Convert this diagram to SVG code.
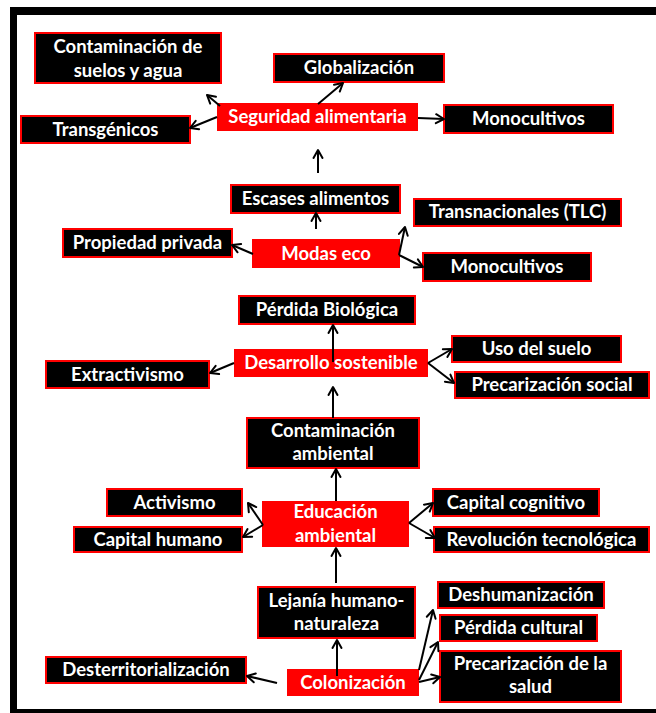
<svg xmlns="http://www.w3.org/2000/svg" width="656" height="713" viewBox="0 0 656 713">
<defs>
<marker id="ah" viewBox="0 0 12 12" refX="10" refY="6" markerWidth="12" markerHeight="12" markerUnits="userSpaceOnUse" orient="auto">
<path d="M2,1.5 L10,6 L2,10.5" fill="none" stroke="#000" stroke-width="2" stroke-linecap="round" stroke-linejoin="round"/>
</marker>
<style>
.b{fill:#000;stroke:#ff0000;stroke-width:2}
.r{fill:#ff0000;stroke:none}
text{font-family:Lato,"Liberation Sans",sans-serif;font-weight:bold;font-size:18.5px;fill:#fff;text-anchor:middle}
.c line{stroke:#000;stroke-width:2;marker-end:url(#ah)}
</style>
</defs>
<rect x="0" y="0" width="656" height="713" fill="#fff"/>
<g id="frame">
<rect x="10" y="7" width="646" height="8" fill="#000"/>
<rect x="10" y="7" width="7" height="706" fill="#000"/>
<rect x="10" y="709" width="646" height="4" fill="#000"/>
</g>
<g id="contaminacion_suelos"><rect class="b" x="35" y="33" width="186" height="50"/><text x="128" y="53">Contaminación de</text><text x="128" y="77">suelos y agua</text></g>
<g id="globalizacion"><rect class="b" x="274" y="54" width="170" height="28"/><text x="359" y="74">Globalización</text></g>
<g id="seguridad_alimentaria"><rect class="r" x="217" y="103" width="201" height="28"/><text x="317.5" y="123">Seguridad alimentaria</text></g>
<g id="transgenicos"><rect class="b" x="21" y="116" width="169" height="27"/><text x="105.5" y="136">Transgénicos</text></g>
<g id="monocultivos_1"><rect class="b" x="444" y="105" width="169" height="28"/><text x="528.5" y="125">Monocultivos</text></g>
<g id="escases_alimentos"><rect class="b" x="231" y="185" width="169" height="28"/><text x="315.5" y="205">Escases alimentos</text></g>
<g id="transnacionales"><rect class="b" x="414" y="199" width="207" height="27"/><text x="517.5" y="218">Transnacionales (TLC)</text></g>
<g id="propiedad_privada"><rect class="b" x="63" y="229" width="169" height="28"/><text x="147.5" y="249">Propiedad privada</text></g>
<g id="modas_eco"><rect class="r" x="252" y="239" width="148" height="29"/><text x="326" y="260">Modas eco</text></g>
<g id="monocultivos_2"><rect class="b" x="423" y="253" width="168" height="28"/><text x="507" y="273">Monocultivos</text></g>
<g id="perdida_biologica"><rect class="b" x="239" y="296" width="176" height="28"/><text x="327" y="316">Pérdida Biológica</text></g>
<g id="desarrollo_sostenible"><rect class="r" x="234" y="349" width="194" height="28"/><text x="331" y="369">Desarrollo sostenible</text></g>
<g id="extractivismo"><rect class="b" x="46" y="361" width="163" height="27"/><text x="127.5" y="381">Extractivismo</text></g>
<g id="uso_suelo"><rect class="b" x="452" y="336" width="169" height="26"/><text x="536.5" y="355">Uso del suelo</text></g>
<g id="precarizacion_social"><rect class="b" x="455" y="372" width="194" height="26"/><text x="552" y="391">Precarización social</text></g>
<g id="contaminacion_ambiental"><rect class="b" x="247" y="418" width="172" height="50"/><text x="333" y="437">Contaminación</text><text x="333" y="460">ambiental</text></g>
<g id="activismo"><rect class="b" x="107" y="489" width="135" height="27"/><text x="174.5" y="509">Activismo</text></g>
<g id="capital_humano"><rect class="b" x="74" y="527" width="168" height="25"/><text x="158" y="546">Capital humano</text></g>
<g id="educacion_ambiental"><rect class="r" x="262" y="501" width="147" height="46"/><text x="335.5" y="518">Educación</text><text x="335.5" y="542">ambiental</text></g>
<g id="capital_cognitivo"><rect class="b" x="433" y="489" width="166" height="27"/><text x="516" y="509">Capital cognitivo</text></g>
<g id="revolucion_tecnologica"><rect class="b" x="434" y="527" width="215" height="25"/><text x="541.5" y="546">Revolución tecnológica</text></g>
<g id="lejania"><rect class="b" x="258" y="587" width="157" height="51"/><text x="336.5" y="607">Lejanía humano-</text><text x="336.5" y="630">naturaleza</text></g>
<g id="deshumanizacion"><rect class="b" x="438" y="582" width="166" height="26"/><text x="521" y="601">Deshumanización</text></g>
<g id="perdida_cultural"><rect class="b" x="440" y="615" width="157" height="26"/><text x="518.5" y="634">Pérdida cultural</text></g>
<g id="precarizacion_salud"><rect class="b" x="440" y="651" width="181" height="51"/><text x="530.5" y="670">Precarización de la</text><text x="530.5" y="693">salud</text></g>
<g id="desterritorializacion"><rect class="b" x="46" y="657" width="200" height="26"/><text x="146" y="676">Desterritorialización</text></g>
<g id="colonizacion"><rect class="r" x="287" y="669" width="132" height="27"/><text x="353" y="689">Colonización</text></g>
<g class="c" id="connectors">
<line x1="220" y1="106" x2="207" y2="95"/>
<line x1="217" y1="117" x2="190" y2="128"/>
<line x1="318" y1="104" x2="343" y2="83"/>
<line x1="418" y1="118" x2="444" y2="119"/>
<line x1="318" y1="173" x2="318" y2="150"/>
<line x1="316" y1="229" x2="316" y2="213"/>
<line x1="399" y1="255" x2="405" y2="227"/>
<line x1="399" y1="255" x2="423" y2="267"/>
<line x1="253" y1="254" x2="232" y2="245"/>
<line x1="333" y1="362" x2="333" y2="325"/>
<line x1="234" y1="363" x2="210" y2="373"/>
<line x1="428" y1="363" x2="452" y2="349"/>
<line x1="428" y1="363" x2="454" y2="383"/>
<line x1="333" y1="418" x2="333" y2="387"/>
<line x1="336" y1="501" x2="336" y2="469"/>
<line x1="336" y1="583" x2="336" y2="548"/>
<line x1="263" y1="525" x2="248" y2="503"/>
<line x1="263" y1="525" x2="243" y2="537"/>
<line x1="409" y1="523" x2="433" y2="503"/>
<line x1="409" y1="523" x2="435" y2="538"/>
<line x1="337" y1="676" x2="337" y2="640"/>
<line x1="277" y1="683" x2="247" y2="676"/>
<line x1="419" y1="670" x2="433" y2="610"/>
<line x1="419" y1="680" x2="438" y2="642"/>
<line x1="419" y1="682" x2="440" y2="677"/>
</g>
</svg>
